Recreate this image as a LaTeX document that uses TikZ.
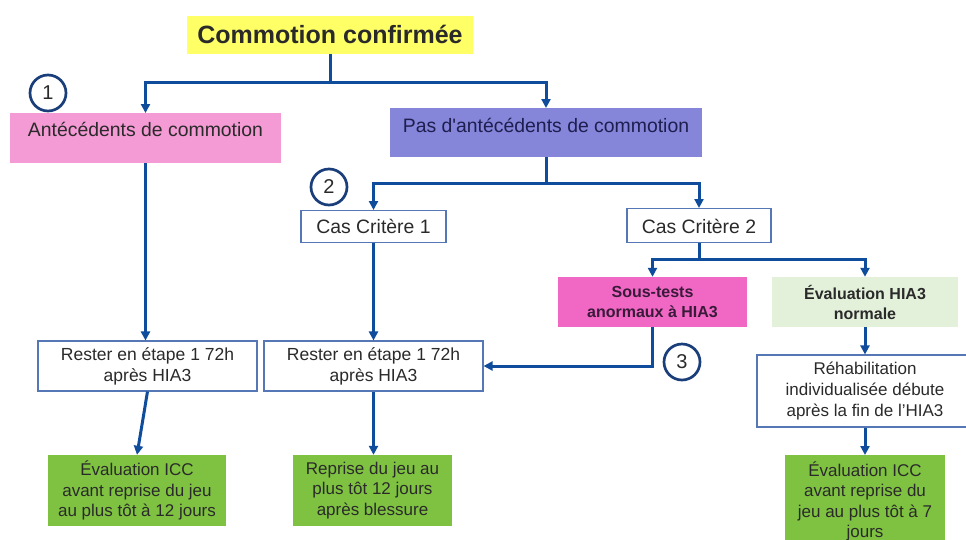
\documentclass[tikz,border=0pt]{standalone}
\usepackage{fontspec}
\setmainfont{Liberation Sans}[Ligatures=TeXOff]
\usetikzlibrary{arrows.meta}
\definecolor{yellowc}{HTML}{FFFF66}
\definecolor{pinkc}{HTML}{F49AD4}
\definecolor{purplec}{HTML}{8585D9}
\definecolor{magentac}{HTML}{F068C3}
\definecolor{lgreenc}{HTML}{E3F1DA}
\definecolor{greenc}{HTML}{7FC241}
\definecolor{lineblue}{HTML}{104C9C}
\definecolor{circblue}{HTML}{1A3E7A}
\definecolor{boxborder}{HTML}{5577B5}
\definecolor{textc}{HTML}{2A2A2A}
\definecolor{pastext}{HTML}{1E1E50}
\definecolor{soustext}{HTML}{3A1A3A}
\begin{document}
\begin{tikzpicture}[x=1pt,y=-1pt,
  plain/.style={lineblue, line width=3pt},
  conn/.style={lineblue, line width=3pt, -{Triangle[length=9pt,width=9pt]}},
  box/.style={rectangle, inner sep=0pt, align=center, text=textc},
  wbox/.style={box, draw=boxborder, line width=1.1pt, fill=white},
  num/.style={circle, draw=circblue, line width=2.7pt, fill=white, minimum size=36pt, inner sep=0pt, text=textc, font=\fontsize{20}{22}\selectfont},
  head/.style={font=\fontsize{19.4}{23}\selectfont},
  body/.style={font=\fontsize{17}{20.5}\selectfont},
  bodyb/.style={font=\fontsize{16}{20}\selectfont\bfseries}
]
\useasboundingbox (0,0) rectangle (966,539);
\clip (0,0) rectangle (966,539);
\fill[white] (0,0) rectangle (966,539);

% nodes
\node[box, fill=yellowc, anchor=north, minimum width=286pt, text height=27pt, text depth=11pt,
      font=\fontsize{25}{28}\selectfont\bfseries] (top) at (330,16) {Commotion confirmée};
\node[box, fill=pinkc, anchor=north, minimum width=271pt, text height=23pt, text depth=27pt, head] (ant) at (145.5,113) {Antécédents de commotion};
\node[box, fill=purplec, anchor=north, minimum width=312pt, text height=24pt, text depth=25pt, head, text=pastext] (pas) at (546,108) {Pas d'antécédents de commotion};
\node[wbox, anchor=north, minimum width=145pt, text height=22.7pt, text depth=9.3pt, head] (cc1) at (373.5,210) {Cas Critère 1};
\node[wbox, anchor=north, minimum width=144pt, text height=24.7pt, text depth=9.3pt, head] (cc2) at (699,208) {Cas Critère 2};

\node[box, fill=magentac, minimum width=189pt, minimum height=50pt, bodyb, text=soustext] (sous) at (652.5,302) {Sous-tests\\anormaux à HIA3};
\node[box, fill=lgreenc, minimum width=186pt, minimum height=50pt, bodyb] (evaln) at (865,302) {Évaluation HIA3\\normale};

\node[wbox, minimum width=219pt, minimum height=50pt, font=\fontsize{17.5}{21}\selectfont] (reste1) at (147.5,366) {Rester en étape 1 72h\\après HIA3};
\node[wbox, minimum width=219pt, minimum height=50pt, font=\fontsize{17.5}{21}\selectfont] (reste2) at (373.5,366) {Rester en étape 1 72h\\après HIA3};
\node[wbox, minimum width=216pt, minimum height=72pt, font=\fontsize{17}{21}\selectfont] (rehab) at (865,391) {Réhabilitation\\individualisée débute\\après la fin de l’HIA3};

\node[box, fill=greenc, minimum width=178pt, minimum height=71pt, body] (eval1) at (137,490.5) {Évaluation ICC\\avant reprise du jeu\\au plus tôt à 12 jours};
\node[box, fill=greenc, minimum width=159pt, minimum height=71pt, body] (reprise) at (372.5,490.5) {Reprise du jeu au\\plus tôt 12 jours\\après blessure};
\node[box, fill=greenc, anchor=north, minimum width=160pt, minimum height=92pt, body] (eval2) at (865,455) {Évaluation ICC\\avant reprise du\\jeu au plus tôt à 7\\jours};

% junctions
\coordinate (j1) at (330,82);
\coordinate (j2) at (546,183);
\coordinate (j3) at (699,259);

% connectors
\draw[plain] (top.south) -- (j1);
\draw[conn] (j1) -| (ant.north);
\draw[conn] (j1) -| (pas.north);
\draw[plain] (pas.south) -- (j2);
\draw[conn] (j2) -| (cc1.north);
\draw[conn] (j2) -| (cc2.north);
\draw[plain] (cc2.south) -- (j3);
\draw[conn] (j3) -| (sous.north);
\draw[conn] (j3) -| (evaln.north);
\draw[conn] (ant.south) -- (ant.south |- reste1.north);
\draw[conn] (cc1.south) -- (cc1.south |- reste2.north);
\draw[conn] (sous.south) |- (reste2.east);
\draw[conn] (reste1.south) -- (eval1.north);
\draw[conn] (reste2.south) -- (reste2.south |- reprise.north);
\draw[conn] (evaln.south) -- (rehab.north);
\draw[conn] (rehab.south) -- (eval2.north);

% numbered circles
\node[num] (n1) at (48,93) {1};
\node[num] (n2) at (329,187) {2};
\node[num] (n3) at (682,362) {3};
\end{tikzpicture}
\end{document}
